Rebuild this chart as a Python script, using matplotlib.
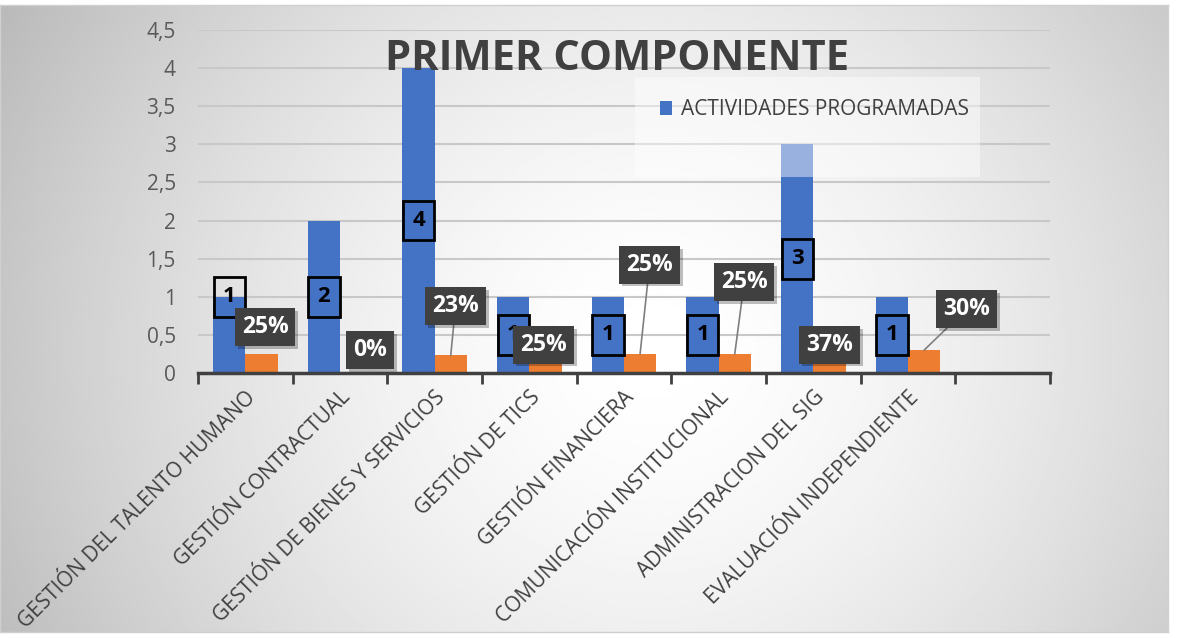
import matplotlib.pyplot as plt
import matplotlib.patheffects as pe
import numpy as np

plt.rcParams["font.family"] = ["Open Sans", "DejaVu Sans"]

categories = [
    "GESTIÓN DEL TALENTO HUMANO",
    "GESTIÓN CONTRACTUAL",
    "GESTIÓN DE BIENES Y SERVICIOS",
    "GESTIÓN DE TICS",
    "GESTIÓN FINANCIERA",
    "COMUNICACIÓN INSTITUCIONAL",
    "ADMINISTRACION DEL SIG",
    "EVALUACIÓN INDEPENDIENTE",
]
programadas = [1, 2, 4, 1, 1, 1, 3, 1]
avance = [0.25, 0.0, 0.23, 0.25, 0.25, 0.25, 0.37, 0.30]
avance_labels = ["25%", "0%", "23%", "25%", "25%", "25%", "37%", "30%"]

# label placement (data coords), picked to match the original layout
blue_label_y = [1.0, 1.0, 2.0, 0.5, 0.5, 0.5, 1.5, 0.5]
pct_label_xy = [(0.21, 0.60), (1.32, 0.30), (2.22, 0.88), (3.15, 0.37),
                (4.27, 1.42), (5.27, 1.19), (6.17, 0.37), (7.62, 0.84)]
leader = [False, False, True, False, True, True, False, True]

BLUE = "#4472C4"
ORANGE = "#ED7D31"
DARK = "#404040"

fig = plt.figure(figsize=(11.77, 6.38), dpi=100)

# radial-ish grey gradient background
bg = fig.add_axes([0, 0.01, 0.992, 0.982], zorder=-10)
gx, gy = np.meshgrid(np.linspace(0, 1, 400), np.linspace(0, 1, 220))
r = np.sqrt(((gx - 0.56) / 0.62) ** 2 + ((gy - 0.45) / 1.1) ** 2)
shade = np.clip(1 - 0.26 * r ** 1.6, 0, 1)
bg.imshow(shade, cmap="gray", vmin=0, vmax=1, aspect="auto",
          extent=[0, 1, 0, 1], origin="lower", interpolation="bilinear")
bg.set_xticks([])
bg.set_yticks([])
for s in bg.spines.values():
    s.set_color("#d0d0d0")
    s.set_linewidth(1)

ax = fig.add_axes([198 / 1177, 1 - 373 / 638, 852 / 1177, 343 / 638])
ax.patch.set_alpha(0)

n = len(categories)
x = np.arange(n)
w = 0.34
ax.bar(x - w / 2, programadas, w, color=BLUE, zorder=2, label="ACTIVIDADES PROGRAMADAS")
ax.bar(x + w / 2, avance, w, color=ORANGE, zorder=2)

ax.set_xlim(-0.5, n + 0.5)
ax.set_ylim(0, 4.5)
ax.set_yticks(np.arange(0, 4.51, 0.5))
ax.set_yticklabels([f"{v:g}".replace(".", ",") for v in np.arange(0, 4.51, 0.5)],
                   fontsize=15, color="#595959")
ax.yaxis.grid(True, color="#c8c8c8", linewidth=1.5, zorder=0)
ax.set_axisbelow(True)
ax.tick_params(axis="y", length=0, pad=16)

ax.set_xticks(x)
ax.set_xticklabels(categories, rotation=45, ha="right", va="top",
                   rotation_mode="anchor", fontsize=15, color="#404040")
ax.set_xticks(np.arange(-0.5, n + 1, 1), minor=True)
ax.tick_params(axis="x", which="major", length=0, pad=10)
ax.tick_params(axis="x", which="minor", length=8, width=2, color="#404040")

for side in ["top", "right", "left"]:
    ax.spines[side].set_visible(False)
ax.spines["bottom"].set_color("#404040")
ax.spines["bottom"].set_linewidth(2.5)

shadow = [pe.withSimplePatchShadow(offset=(2, -2), shadow_rgbFace="#000000", alpha=0.25)]

# value labels on the blue bars
for xi, v, ly in zip(x, programadas, blue_label_y):
    ax.text(xi - w / 2, ly, f"{v}", ha="center", va="center", fontsize=16,
            fontweight="bold", color="black", zorder=5,
            bbox=dict(boxstyle="square,pad=0.42", facecolor="none",
                      edgecolor="black", linewidth=2))

# percentage labels on dark boxes
for xi, v, lab, (lx, ly), ld in zip(x, avance, avance_labels, pct_label_xy, leader):
    t = ax.annotate(lab, xy=(xi + w / 2, v), xytext=(lx, ly),
                    ha="center", va="center", fontsize=16.5, fontweight="bold",
                    color="white", zorder=6,
                    bbox=dict(boxstyle="square,pad=0.3", facecolor=DARK,
                              edgecolor="none"),
                    arrowprops=dict(arrowstyle="-", color="#7f7f7f", lw=1.2,
                                    shrinkA=0, shrinkB=0) if ld else None)
    t.get_bbox_patch().set_path_effects(shadow + [pe.Normal()])

# legend panel (semi-transparent white)
ax.add_patch(plt.Rectangle((0.513, 0.571), 0.405, 0.292, transform=ax.transAxes,
                           facecolor="white", alpha=0.45, edgecolor="none", zorder=4))
leg = ax.legend(loc="center left", bbox_to_anchor=(0.52, 0.767), frameon=False,
                fontsize=15, handlelength=0.6, handleheight=0.6, handletextpad=0.4,
                labelcolor="#404040")
leg.set_zorder(7)

fig.text(617 / 1177, 1 - 59 / 638, "PRIMER COMPONENTE", ha="center", va="center",
         fontsize=30, fontweight="bold", color=DARK)

fig.savefig("out.png", dpi=100)
